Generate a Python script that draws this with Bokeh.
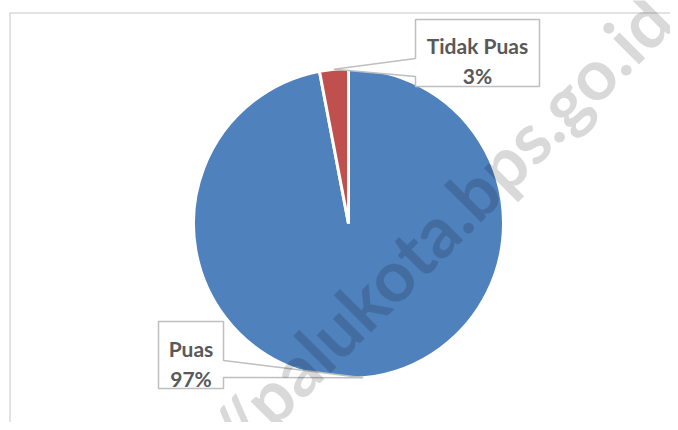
import numpy as np
from bokeh.plotting import figure
from bokeh.models import Range1d, ColumnDataSource
from bokeh.core.properties import value
from bokeh.embed import file_html
from bokeh.resources import INLINE

# ---- data ----
categories = ["Puas", "Tidak Puas"]
values = [97, 3]
colors = ["#4F81BD", "#C0504D"]
watermark = "http://palukota.bps.go.id"

# ---- layout (picture pixel coordinates) ----
W, H = 670, 422


def Y(img_y):
    return H - img_y


cx, cy, R = 348, Y(223), 155

p = figure(width=W, height=H, x_range=Range1d(0, W), y_range=Range1d(0, H),
           output_backend="svg", toolbar_location=None, min_border=0)
p.axis.visible = False
p.grid.visible = False
p.outline_line_color = None
p.background_fill_color = "white"
p.border_fill_color = "white"

# chart area border
p.quad(left=9.5, right=720, top=Y(12.5), bottom=-40, fill_color=None,
       line_color="#d9d9d9", line_width=1.5)

# wedges
total = float(sum(values))
cum = np.cumsum([0] + values)
start = np.pi / 2 - 2 * np.pi * cum[:-1] / total
end = np.pi / 2 - 2 * np.pi * cum[1:] / total
src = ColumnDataSource(dict(cat=categories, val=values, color=colors,
                            start=start, end=end))
p.wedge(x=cx, y=cy, radius=R, start_angle="start", end_angle="end",
        direction="clock", fill_color="color", line_color="white",
        line_width=3, source=src)

mid = (start + end) / 2
tip_x = cx + R * np.cos(mid)
tip_y = cy + R * np.sin(mid)

# callout layouts: left, right, top, bottom, pointer side, pointer y1, y2
callouts = {
    "Puas": (158, 223, 321, 388, "right", 360, 377),
    "Tidak Puas": (415, 539, 19, 86, "left", 58, 76),
}
name_base = {"Puas": 348, "Tidak Puas": 45}
pct_base = {"Puas": 378, "Tidak Puas": 75}

for i, cat in enumerate(categories):
    l, r, t, b, side, y1, y2 = callouts[cat]
    tx, ty = tip_x[i], tip_y[i]
    if side == "left":
        xs = [l, r, r, l, l, tx, l]
        ys = [Y(t), Y(t), Y(b), Y(b), Y(y2), ty, Y(y1)]
    else:
        xs = [l, r, r, tx, r, r, l]
        ys = [Y(t), Y(t), Y(y1), ty, Y(y2), Y(b), Y(b)]
    p.patch(xs, ys, fill_color="white", line_color="#bfbfbf", line_width=1.5)
    xc = (l + r) / 2
    pct = "%d%%" % round(100 * values[i] / total)
    p.text(x=[xc], y=[Y(name_base[cat])], text=[cat], text_align="center",
           text_baseline="alphabetic", text_font=value("Lato"),
           text_font_style="bold", text_font_size="21px", text_color="#595959")
    p.text(x=[xc], y=[Y(pct_base[cat])], text=[pct], text_align="center",
           text_baseline="alphabetic", text_font=value("Lato"),
           text_font_style="bold", text_font_size="21px", text_color="#595959")

# watermark
p.text(x=[657], y=[Y(6.5)], text=[watermark], angle=np.pi / 4,
       text_align="right", text_baseline="alphabetic", text_font=value("Lato"),
       text_font_style="bold", text_font_size="71px", text_color="black",
       text_alpha=0.15)

open("out.html", "w").write(file_html(p, INLINE))
